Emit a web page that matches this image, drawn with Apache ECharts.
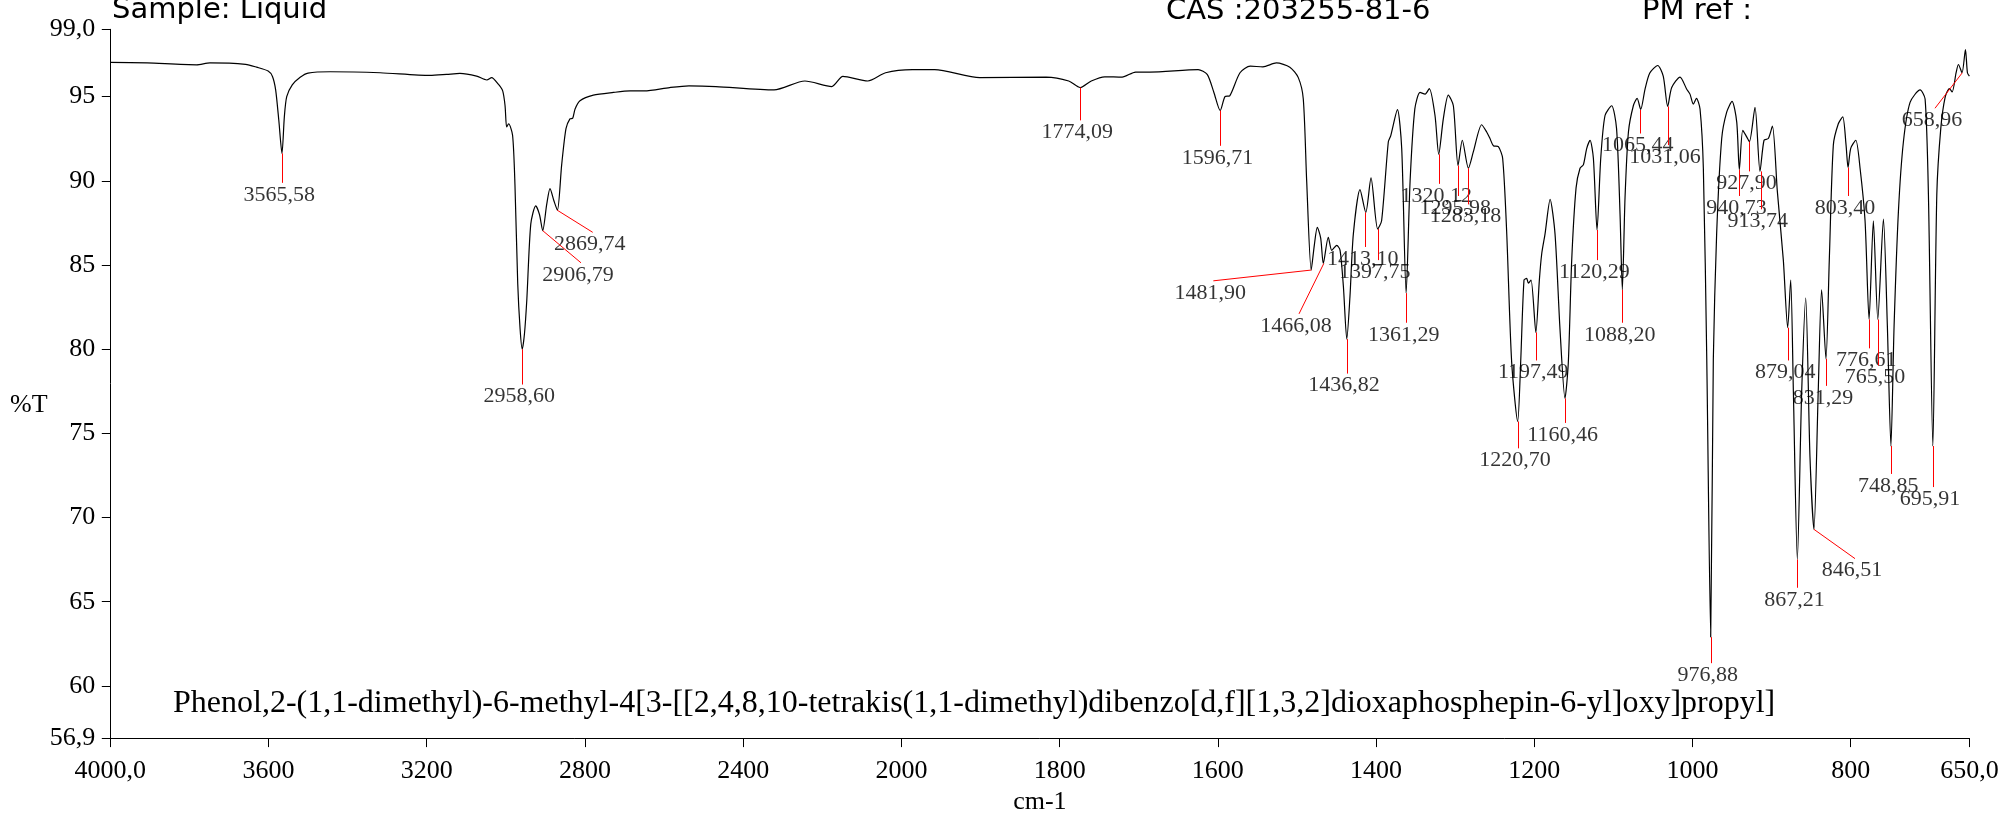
<!DOCTYPE html>
<html><head><meta charset="utf-8">
<script src="https://cdn.jsdelivr.net/npm/echarts@6/dist/echarts.min.js"></script>
<style>html,body{margin:0;padding:0;background:#fff}#c{width:2003px;height:820px}</style>
</head><body><div id="c"></div>
<script>
// ---- spectrum (wavenumber cm-1, %T) ----
const wavenumbers = [4000,3907,3782,3748,3658,3630,3601,3590,3582,3574,3566,3560,3554,3540,3520,3500,3444,3318,3192,3150,3116,3074,3048,3036,3019,3008,3002,2998,2993,2983,2977,2970,2964,2958.6,2953,2947,2937,2924.5,2915,2906.8,2896.7,2888.4,2878.3,2869.7,2858.9,2848,2838,2831,2825,2812.6,2778.8,2728,2686,2650,2586,2537,2469,2322,2244,2176,2148,2085,2040,1986,1958,1901,1817,1788.5,1774,1760,1743,1721,1704,1686,1625,1613.5,1605,1597,1591,1585,1572,1559,1543,1526,1509,1498.3,1492,1487.7,1482,1478,1474.3,1470,1466.7,1460.4,1456,1449.7,1445.5,1441.3,1437,1433,1428.7,1420.3,1413,1406.4,1398,1393,1384.5,1381.5,1373,1367.6,1362,1357,1351,1344.4,1338,1332.7,1325.5,1320.8,1315,1308.7,1302.3,1296.4,1291,1283.3,1277,1266.5,1260.2,1256,1251.7,1245.4,1240,1235,1228.6,1221,1217.2,1213,1209.6,1207.5,1204.1,1198,1193.6,1190.6,1186.4,1180,1173.8,1167.5,1161.2,1157,1152.7,1147.2,1142.2,1138,1133.7,1129.5,1125.3,1120.7,1116,1110.6,1102.2,1096,1091.6,1088.7,1085.3,1081,1074.8,1070,1065.5,1060,1054,1044,1037,1031.4,1026.3,1015.8,1007.3,1003.2,999,995,990.5,986.3,982,977,973.7,969.5,963.1,956.8,950,944.1,940.8,936.5,931.5,928.1,921,914.7,909.6,904.2,899,892.8,885.2,879.7,875.9,872.5,867.5,862,856.9,851.5,846.5,841.1,836.8,831.3,827.1,822,815.7,810.1,805.9,803.4,800,793.6,788.2,781.9,776.8,771.4,765.8,758.7,753.7,749.2,745.2,739.7,733.4,725,712.3,706,701.8,696.2,691.2,686.2,680.7,675.3,671.8,666.8,663.9,659.3,655,652.5,650];
const transmittance = [97.04,97.0,96.89,97.0,96.92,96.75,96.52,96.2,95.4,93.6,91.63,93.8,95.0,95.7,96.15,96.4,96.48,96.42,96.26,96.32,96.38,96.22,95.99,96.13,95.74,95.34,94.46,93.2,93.39,92.71,89.78,83.92,81.2,80.0,80.9,82.94,87.43,88.51,88.0,87.04,88.6,89.54,88.8,88.25,90.95,93.1,93.68,93.72,94.27,94.76,95.09,95.25,95.34,95.34,95.54,95.64,95.6,95.4,95.93,95.6,96.2,95.93,96.42,96.6,96.6,96.13,96.16,95.93,95.54,95.93,96.18,96.16,96.46,96.46,96.6,96.32,95.25,94.17,95.0,95.05,96.42,96.81,96.77,97.0,96.75,96.13,94.86,89.97,84.7,86.2,87.24,86.6,85.09,86.65,85.87,86.17,85.87,83.72,80.6,83.13,86.85,89.48,88.12,90.17,87.14,87.63,92.32,92.67,94.23,91.93,83.33,89.97,94.27,95.25,95.15,95.48,93.88,91.58,93.68,95.09,94.46,90.91,92.41,90.75,91.73,93.33,92.9,92.51,92.08,92.03,91.34,87.06,79.23,75.71,79.23,84.11,84.2,83.92,84.11,81.0,84.1,85.67,86.85,88.9,86.85,81.18,77.08,79.2,85.29,89.58,90.75,90.95,91.93,92.41,91.34,87.08,91.34,93.88,94.46,93.1,88.02,83.53,89.0,92.9,94.46,94.9,94.24,95.45,96.4,96.85,96.22,94.42,95.54,96.16,95.44,95.15,94.56,94.9,94.27,90.75,79.44,62.9,79.4,86.85,92.51,94.08,94.72,93.49,90.66,93.0,92.61,92.32,94.37,90.56,92.41,92.51,93.25,89.39,85.29,81.28,84.11,77.47,67.51,77.47,83.04,73.58,69.3,77.47,83.53,79.43,85.29,92.12,93.39,93.8,92.12,90.79,91.93,92.41,90.75,87.63,81.77,87.63,81.77,87.72,81.38,74.25,81.38,88.2,92.32,94.66,95.4,94.86,89.19,74.25,89.19,93.1,94.96,95.48,95.28,96.42,96.91,96.42,97.79,96.42,96.22];

// ---- peak annotations ----
const peakWavenumbers = [3565.58,2958.60,2906.79,2869.74,1774.09,1596.71,1481.90,1466.08,1436.82,1413.10,1397.75,1361.29,1320.12,1295.98,1283.18,1220.70,1197.49,1160.46,1120.29,1088.20,1065.44,1031.06,976.88,940.73,927.90,913.74,879.04,867.21,846.51,831.29,803.40,776.61,765.50,748.85,695.91,658.96];
const peakTransmittance = [91.63,80.0,87.04,88.25,95.54,94.17,84.7,85.09,80.6,88.12,87.14,83.33,91.58,90.91,90.75,75.71,81.0,77.08,87.08,83.53,94.21,94.42,62.9,90.66,92.32,90.56,81.28,67.51,69.3,79.43,90.79,81.77,81.77,74.25,74.25,96.42];
// leader-line end points (null wavenumber = vertical leader)
const leaderEndWavenumbers = [null,null,2810,2780.4,null,null,1605.7,1497.4,null,null,null,null,null,null,null,null,null,null,null,null,null,null,null,null,null,null,null,null,794.6,null,null,null,null,null,null,693.5];
const leaderEndTransmittance = [89.88,77.9,85.13,86.94,93.59,92.08,84.06,82.1,78.55,86.07,85.29,81.57,89.82,89.1,88.6,74.11,79.33,75.62,85.29,81.57,92.81,92.12,61.35,89.1,90.56,88.31,79.33,65.83,67.56,77.82,89.1,80.05,79.03,72.59,71.81,94.31];

// ---- axis ----
const xMinWn = 650, xMaxWn = 4000, xBreakWn = 2000;
const yMin = 56.9, yMax = 99.0, yStep = 5;

// piecewise wavenumber scale: 4000-2000 is drawn at half the density of 2000-650
function toAxis(w) { return w >= xBreakWn ? (xMaxWn - w) / 2 : (xMaxWn - xBreakWn) / 2 + (xBreakWn - w); }
function fromAxis(t) { const b = (xMaxWn - xBreakWn) / 2; return t <= b ? xMaxWn - 2 * t : xBreakWn - (t - b); }
const fmtComma = (v, d) => v.toFixed(d).replace('.', ',');

const chart = echarts.init(document.getElementById('c'), null, {renderer: 'canvas'});
const serif = 'Liberation Serif';

const spectrum = wavenumbers.map((w, i) => [toAxis(w), transmittance[i]]);
const labelPoints = peakWavenumbers.map((w, i) => ({
  name: fmtComma(w, 2),
  value: [toAxis(leaderEndWavenumbers[i] == null ? w : leaderEndWavenumbers[i]), leaderEndTransmittance[i]]
}));
const leaders = peakWavenumbers.map((w, i) => [
  {coord: [toAxis(w), peakTransmittance[i]]},
  {coord: [toAxis(leaderEndWavenumbers[i] == null ? w : leaderEndWavenumbers[i]), leaderEndTransmittance[i]]}
]);

chart.setOption({
  animation: false,
  backgroundColor: '#fff',
  grid: {left: 110.3, top: 29.3, right: 33.6, bottom: 72.3, containLabel: false},
  xAxis: {
    type: 'value', min: 0, max: toAxis(xMinWn), interval: 200,
    name: 'cm-1', nameLocation: 'middle', nameGap: 49,
    nameTextStyle: {fontFamily: serif, fontSize: 26, color: '#000'},
    axisLine: {show: true, onZero: false, lineStyle: {color: '#000', width: 1}},
    axisTick: {show: true, length: 9, lineStyle: {color: '#000', width: 1}},
    axisLabel: {
      fontFamily: serif, fontSize: 26, color: '#000', margin: 20,
      formatter: t => { const w = Math.round(fromAxis(t)); return (w === xMaxWn || w === xMinWn) ? fmtComma(w, 1) : String(w); }
    },
    splitLine: {show: false}
  },
  yAxis: {
    type: 'value', min: yMin, max: yMax, minInterval: yStep, maxInterval: yStep, splitNumber: 8,
    axisLine: {show: true, onZero: false, lineStyle: {color: '#000', width: 1}},
    axisTick: {show: true, length: 8.5, lineStyle: {color: '#000', width: 1}},
    axisLabel: {
      fontFamily: serif, fontSize: 26, color: '#000', margin: 15, padding: [0, 0, 12, 0],
      formatter: v => (Math.abs(v - yMax) < 1e-6 || Math.abs(v - yMin) < 1e-6) ? fmtComma(v, 1) : String(Math.round(v))
    },
    splitLine: {show: false}
  },
  series: [
    {
      type: 'line', data: spectrum, showSymbol: false, symbol: 'none', silent: true,
      smooth: 0.25, lineStyle: {color: '#000', width: 1.2}, z: 3
    },
    {
      type: 'scatter', data: labelPoints, symbolSize: 0, silent: true, z: 4,
      label: {
        show: true, position: 'bottom', distance: 1, offset: [-3, 0], formatter: '{b}',
        fontFamily: serif, fontSize: 22, color: '#000'
      },
      markLine: {
        silent: true, symbol: ['none', 'none'], animation: false,
        label: {show: false},
        lineStyle: {color: '#ff0000', width: 1, type: 'solid'},
        emphasis: {disabled: true},
        data: leaders
      }
    }
  ],
  graphic: [
    {type: 'text', silent: true, style: {x: 112, y: 10.5, text: 'Sample: Liquid', font: '29px "DejaVu Sans"', fill: '#000', textAlign: 'left', textVerticalAlign: 'middle'}},
    {type: 'text', silent: true, style: {x: 1166, y: 11, text: 'CAS :203255-81-6', font: '29px "DejaVu Sans"', fill: '#000', textAlign: 'left', textVerticalAlign: 'middle'}},
    {type: 'text', silent: true, style: {x: 1642, y: 11, text: 'PM ref :', font: '29px "DejaVu Sans"', fill: '#000', textAlign: 'left', textVerticalAlign: 'middle'}},
    {type: 'text', silent: true, style: {x: 10, y: 405, text: '%T', font: '26px "Liberation Serif"', fill: '#000', textAlign: 'left', textVerticalAlign: 'middle'}},
    {type: 'text', silent: true, style: {x: 173, y: 704, text: 'Phenol,2-(1,1-dimethyl)-6-methyl-4[3-[[2,4,8,10-tetrakis(1,1-dimethyl)dibenzo[d,f][1,3,2]dioxaphosphepin-6-yl]oxy]propyl]', font: '32px "Liberation Serif"', fill: '#000', textAlign: 'left', textVerticalAlign: 'middle'}}
  ]
});
</script>
</body></html>
